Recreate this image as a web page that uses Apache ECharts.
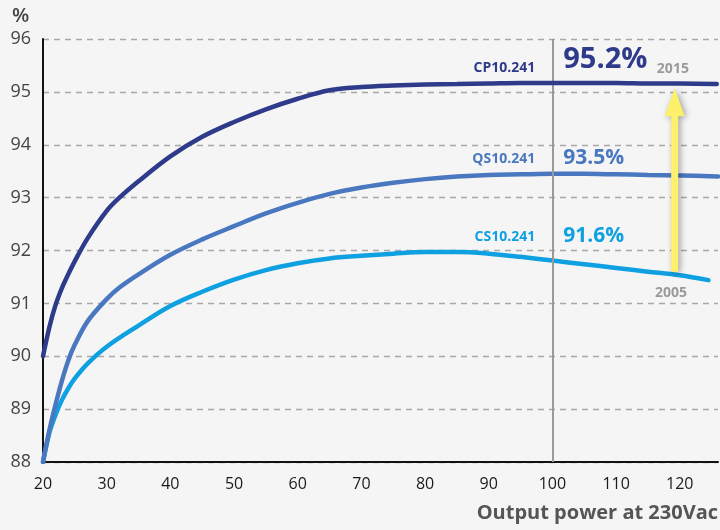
<!DOCTYPE html>
<html>
<head>
<meta charset="utf-8">
<script src="https://cdn.jsdelivr.net/npm/echarts@6/dist/echarts.min.js"></script>
<style>
html,body{margin:0;padding:0;background:#f5f5f5;}
#c{width:720px;height:530px;}
</style>
</head>
<body>
<div id="c"></div>
<script>
var xCP = [20,21,22,23,24,25,27,30,32,35,40,45,50,55,60,65,70,75,80,85,90,95,100,105,110,115,120,125.8];
var yCP = [90.0,90.55,90.98,91.3,91.56,91.8,92.23,92.75,93.0,93.31,93.78,94.15,94.43,94.67,94.87,95.03,95.09,95.12,95.14,95.15,95.16,95.17,95.17,95.17,95.17,95.16,95.16,95.15];
var xQS = [20,21,22,23,24,25,27,30,32,35,40,45,50,55,60,65,70,75,80,85,90,95,100,105,110,115,120,126];
var yQS = [88.0,88.6,89.1,89.55,89.93,90.22,90.66,91.08,91.3,91.55,91.92,92.21,92.46,92.7,92.9,93.07,93.19,93.28,93.35,93.4,93.43,93.44,93.45,93.45,93.44,93.43,93.42,93.4];
var xCS = [20,21,22,23,24,25,27,30,35,40,45,50,55,60,65,70,75,80,85,90,95,100,105,110,115,120,124.5];
var yCS = [88.0,88.55,88.9,89.18,89.4,89.58,89.86,90.18,90.58,90.95,91.22,91.45,91.63,91.76,91.85,91.9,91.94,91.97,91.97,91.94,91.88,91.81,91.74,91.67,91.6,91.53,91.44];
var xTicks = [20,30,40,50,60,70,80,90,100,110,120];
var yTicks = [88,89,90,91,92,93,94,95,96];
var names = ['CP10.241','QS10.241','CS10.241'];
var peaks = ['95.2%','93.5%','91.6%'];
var years = ['2005','2015'];
var refX = 100;
var xTitle = 'Output power at 230Vac';

function pairs(xs, ys){ return xs.map(function(x,i){return [x, ys[i]];}); }

var colors = ['#2e3a8a','#4a78c0','#0fa0e2'];
var FONT = '"Open Sans", "Noto Sans", sans-serif';
var chart = echarts.init(document.getElementById('c'));
var option = {
  backgroundColor:'#f5f5f5',
  animation:false,
  grid:{left:43,right:2,top:39,bottom:68,containLabel:false},
  xAxis:{
    type:'value', min:20, max:126, interval:10,
    axisLine:{show:true,lineStyle:{color:'#111',width:2}},
    axisTick:{show:false},
    splitLine:{show:false},
    axisLabel:{color:'#1a1a1a',fontSize:16,fontFamily:FONT,margin:14,showMaxLabel:false,
      formatter:function(v){return xTicks.indexOf(v)>=0? String(v):'';}}
  },
  yAxis:{
    type:'value', min:88, max:96, interval:1,
    axisLine:{show:true,lineStyle:{color:'#111',width:2}},
    axisTick:{show:false},
    splitLine:{show:true,lineStyle:{color:'#a8a8a8',type:[6,5],width:1.3}},
    axisLabel:{color:'#444',fontSize:18,fontFamily:FONT,margin:12,
      formatter:function(v){return yTicks.indexOf(v)>=0? String(v):'';}}
  },
  series:[
    {name:names[2],type:'line',data:pairs(xCS,yCS),smooth:0.35,showSymbol:false,
      lineStyle:{color:colors[2],width:4.5,cap:'round'},z:3,
      markLine:{silent:true,symbol:['none','none'],label:{show:false},
        lineStyle:{color:'#9a9a9a',width:2,type:'solid'},data:[{xAxis:refX}]}},
    {name:names[1],type:'line',data:pairs(xQS,yQS),smooth:0.35,showSymbol:false,
      lineStyle:{color:colors[1],width:4.5,cap:'round'},z:4},
    {name:names[0],type:'line',data:pairs(xCP,yCP),smooth:0.35,showSymbol:false,
      lineStyle:{color:colors[0],width:4.5,cap:'round'},z:5}
  ]
};
chart.setOption(option);

function P(x,y){ return chart.convertToPixel({gridIndex:0},[x,y]); }

var g = [];
g.push({type:'text',left:12,top:6,style:{text:'%',fill:'#444',font:'600 20px '+FONT}});
g.push({type:'text',right:2,top:503,style:{text:xTitle,fill:'#555',font:'bold 20px '+FONT}});

var nameY = [95.45,93.73,92.26];
var peakY = [95.6,93.75,92.28];
var peakSize = [29,21,21];
for (var i=0;i<3;i++){
  var p = P(97.3,nameY[i]);
  g.push({type:'text',x:p[0],y:p[1],style:{text:names[i],fill:colors[i],font:'bold 14px '+FONT,align:'right',verticalAlign:'middle'}});
  var q = P(101.7,peakY[i]);
  g.push({type:'text',x:q[0],y:q[1],style:{text:peaks[i],fill:colors[i],font:'bold '+peakSize[i]+'px '+FONT,align:'left',verticalAlign:'middle'}});
}
var y15 = P(116.4,95.43), y05 = P(116.1,91.2);
g.push({type:'text',x:y15[0],y:y15[1],style:{text:years[1],fill:'#9a9a9a',font:'bold 14px '+FONT,align:'left',verticalAlign:'middle'}});
g.push({type:'text',x:y05[0],y:y05[1],style:{text:years[0],fill:'#9a9a9a',font:'bold 14px '+FONT,align:'left',verticalAlign:'middle'}});

// yellow arrow
var base = P(119.2,91.6), tip = P(119.2,95.07);
var cx = base[0], sw = 3.5, hw = 10, hh = 28;
g.push({type:'polygon',z:50,shape:{points:[
  [cx-sw,base[1]],[cx-sw,tip[1]+hh],[cx-hw,tip[1]+hh],[cx,tip[1]],[cx+hw,tip[1]+hh],[cx+sw,tip[1]+hh],[cx+sw,base[1]]
]},style:{fill:'#fdf06a',shadowBlur:6,shadowColor:'rgba(0,0,0,0.35)',shadowOffsetX:2,shadowOffsetY:1}});

chart.setOption({graphic:g});
</script>
</body>
</html>
